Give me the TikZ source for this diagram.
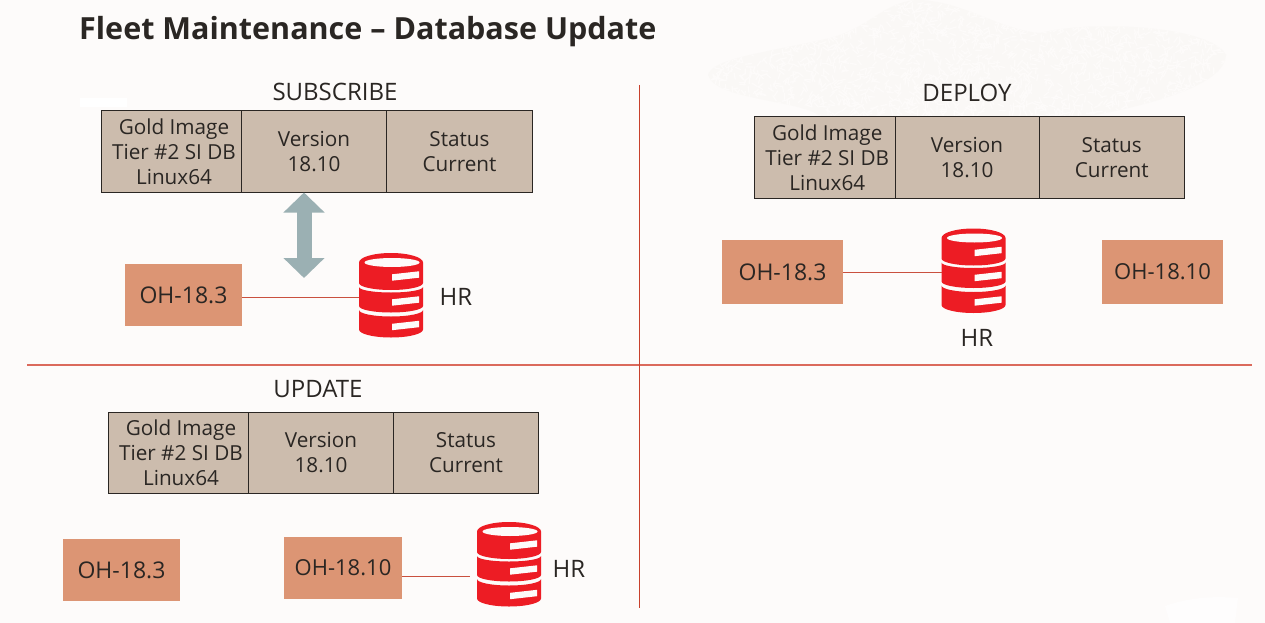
\documentclass[tikz,border=0pt]{standalone}
\usepackage{fontspec}
\setmainfont{Open Sans}
\usepackage{tikz}
\usetikzlibrary{arrows.meta,calc}

\definecolor{pagebg}{HTML}{FDFBFA}
\definecolor{leafbg}{HTML}{FAF8F6}
\definecolor{cellbg}{HTML}{CCBCAD}
\definecolor{ohbg}{HTML}{DC9574}
\definecolor{dbred}{HTML}{ED1C24}
\definecolor{rulered}{HTML}{C9503E}
\definecolor{vrulered}{HTML}{C8402C}
\definecolor{hrulered}{HTML}{DB6A5C}
\definecolor{arrowgrey}{HTML}{9BB0B3}
\definecolor{inkdark}{HTML}{2A2623}

\newcommand{\goldtext}{\hspace*{5pt}Gold Image\\\hspace*{5pt}Tier \#2 SI DB\\\hspace*{5pt}Linux64}

\tikzset{
  cell/.style={draw=inkdark,line width=1pt,fill=cellbg,text=inkdark,font=\fontsize{20.7}{25}\selectfont,
    align=center,minimum height=81pt,inner sep=0pt,outer sep=0pt,anchor=north west},
  oh node/.style={fill=ohbg,text=inkdark,font=\fontsize{23}{27}\selectfont,minimum height=62pt,inner sep=0pt,outer sep=0pt},
  db node/.style={minimum width=64pt,minimum height=85pt,inner sep=0pt,outer sep=0pt},
  caption/.style={text=inkdark,font=\fontsize{24}{28}\selectfont},
  link/.style={rulered,line width=1pt},
  dbicon/.pic={
    \fill[dbred] (-32,-33) arc[start angle=180,end angle=360,x radius=32,y radius=9.5] -- (32,-12.5)
      arc[start angle=0,end angle=180,x radius=32,y radius=7] -- cycle;
    \fill[dbred] (-32,-8.5) arc[start angle=180,end angle=0,x radius=32,y radius=5.5] -- (32,10.5)
      arc[start angle=0,end angle=180,x radius=32,y radius=6.5] -- cycle;
    \fill[dbred] (-32,14.5) arc[start angle=180,end angle=0,x radius=32,y radius=6.5] -- (32,34)
      arc[start angle=0,end angle=180,x radius=32,y radius=8] -- cycle;
    \fill[pagebg] (1,-33) ellipse[x radius=27.5,y radius=4.5];
    \foreach \yy in {-18,7,31.5}
      \fill[pagebg] (1,\yy-3.2) -- (28,\yy-6.2) -- (28,\yy+0.2) -- (1,\yy+3.2) -- cycle;
  }
}

\begin{document}
\begin{tikzpicture}[x=1pt,y=-1pt]
  \fill[pagebg] (0,0) rectangle (1265,623);
  \useasboundingbox (0,0) rectangle (1265,623);

  % leaf pattern behind the title
  \begin{scope}
    \path[clip] (708,75) .. controls (712,58) and (770,52) .. (830,38) .. controls (870,28) and (885,0) .. (920,0)
      .. controls (965,2) and (1000,30) .. (1040,33) .. controls (1090,20) and (1210,25) .. (1226,55)
      .. controls (1225,85) and (1150,105) .. (1090,116) -- (820,116) .. controls (800,100) and (715,100) .. (708,75) -- cycle;
    \fill[leafbg] (700,0) rectangle (1265,120);
    \pgfmathsetseed{18}
    \foreach \i in {1,...,2400}{
      \pgfmathsetmacro{\px}{700+rnd*530}
      \pgfmathsetmacro{\py}{rnd*120}
      \pgfmathsetmacro{\pa}{rnd*180}
      \draw[pagebg,line width=1.3pt,line cap=round] (\px,\py) -- ++(\pa:6);
    }
  \end{scope}

  \fill[white] (80,98) rectangle (127,107);
  \fill[white!60!pagebg] (1165,606) .. controls (1190,597) and (1215,596) .. (1238,598) -- (1235,623) -- (1170,623) -- cycle;

  \node[anchor=west,inner sep=0pt,text=inkdark,font=\fontsize{30.5}{36}\selectfont\bfseries] (title) at (79,32) {Fleet Maintenance – Database Update};

  % quadrant rules
  \coordinate (ruleT) at (639.5,85);
  \coordinate (ruleB) at (639.5,608);
  \coordinate (ruleL) at (27,365);
  \coordinate (ruleR) at (1252,365);
  \draw[hrulered,line width=1.2pt] (ruleL) -- (ruleR);
  \draw[vrulered,line width=1pt] (ruleT) -- (ruleB);

  % SUBSCRIBE
  \node[caption] (subcap) at (335,92) {SUBSCRIBE};
  \node[cell,minimum width=140pt] (sub1) at (101.5,111) {\goldtext};
  \node[cell,minimum width=145pt] (sub2) at (241.5,111) {Version\\18.10};
  \node[cell,minimum width=146pt] (sub3) at (386.5,111) {Status\\Current};
  \node[oh node,minimum width=117pt] (subOH) at (183.5,295) {OH-18.3};
  \node[db node] (subDB) at (391,295.5) {};
  \pic at (subDB) {dbicon};
  \node[caption] (subHR) at (456,297) {HR};
  \draw[link] (subOH.east |- 0,297) -- (subDB.west |- 0,297);
  \coordinate (arrT) at (304,192.5);
  \coordinate (arrB) at (304,278);
  \draw[arrowgrey,line width=15pt,{Triangle[width=40pt,length=20pt]}-{Triangle[width=40pt,length=20pt]}] (arrT) -- (arrB);

  % DEPLOY
  \node[caption] (depcap) at (967,93) {DEPLOY};
  \node[cell,minimum width=140.5pt] (dep1) at (754.5,117) {\goldtext};
  \node[cell,minimum width=144pt] (dep2) at (895,117) {Version\\18.10};
  \node[cell,minimum width=145.5pt] (dep3) at (1039,117) {Status\\Current};
  \node[oh node,minimum width=121pt,minimum height=64pt] (depOH) at (782.5,272) {OH-18.3};
  \node[oh node,minimum width=121pt,minimum height=64pt,font=\fontsize{22}{27}\selectfont] (depNew) at (1162.5,272) {OH-18.10};
  \node[db node] (depDB) at (973.5,271) {};
  \pic at (depDB) {dbicon};
  \node[caption] (depHR) at (977,338) {HR};
  \draw[link] (depOH.east) -- (depDB.west |- depOH.east);

  % UPDATE
  \node[caption] (updcap) at (318,389) {UPDATE};
  \node[cell,minimum width=140pt] (upd1) at (108.5,412) {\goldtext};
  \node[cell,minimum width=145pt] (upd2) at (248.5,412) {Version\\18.10};
  \node[cell,minimum width=145pt] (upd3) at (393.5,412) {Status\\Current};
  \node[oh node,minimum width=117pt] (updOH) at (121.5,570) {OH-18.3};
  \node[oh node,minimum width=118pt,font=\fontsize{22}{27}\selectfont] (updNew) at (343,568) {OH-18.10};
  \node[db node] (updDB) at (509,564.5) {};
  \pic at (updDB) {dbicon};
  \node[caption] (updHR) at (569,569) {HR};
  \coordinate (updEnd) at (470,576);
  \draw[link] (updNew.east |- updEnd) -- (updEnd);
\end{tikzpicture}
\end{document}
